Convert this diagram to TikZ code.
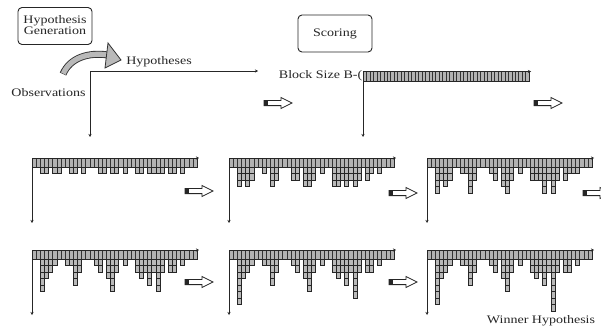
\documentclass[tikz,border=0pt]{standalone}
\usepackage{fontspec}
\setmainfont{Liberation Serif}
\usetikzlibrary{arrows.meta}
\newcommand{\wt}[1]{\scalebox{1.22}[1]{#1}}
\tikzset{
 cellbox/.style={fill=gray!55, draw=black!85, line width=0.45pt},
 barbox/.style={fill=gray!60, draw=black!85, line width=0.6pt},
 gridln/.style={draw=black!80, line width=0.4pt},
 axisln/.style={draw=black!85, line width=0.9pt, -{Stealth[length=3pt,width=3pt]}},
 labeltext/.style={font=\fontsize{11.5}{13}\selectfont, text=black!85, inner sep=0pt},
 stagebox/.style={draw=black!85, line width=0.9pt, rounded corners=4pt, minimum width=74pt, minimum height=37pt, inner sep=0pt, font=\fontsize{11.5}{13}\selectfont, text=black!85, align=center},
 blockarrow/.pic={
   \filldraw[fill=white, draw=black!85, line width=0.8pt] (0,-2.6) -- (17,-2.6) -- (17,-5.5) -- (28,0) -- (17,5.5) -- (17,2.6) -- (0,2.6) -- cycle;
   \fill[black!85] (0,-2.6) rectangle (4,2.6);
 }
}
\newcommand{\hpanel}[4]{%
 \coordinate (#1o) at (#2,#3);
 \coordinate (#1x) at (#2+167,#3);
 \coordinate (#1y) at (#2,#3+65);
 \begin{scope}[shift={(#1o)}]
  \foreach \i/\h in {#4}{\foreach \k in {1,...,\h}{\filldraw[cellbox] ({\i*4.125},{9+(\k-1)*6.5}) rectangle ++(4.125,6.5);}}
  \filldraw[barbox] (0,0) rectangle (165,9);
  \foreach \i in {1,...,39}{\draw[gridln] ({\i*4.125},0) -- ({\i*4.125},9);}
 \end{scope}
 \draw[axisln] (#1o) -- (#1x);
 \draw[axisln] (#1o) -- (#1y);
}
\begin{document}
\begin{tikzpicture}[x=1pt,y=-1pt]
\clip (0,0) rectangle (601,329);
\fill[white] (0,0) rectangle (601,329);

% stage boxes
\node[stagebox] (gen) at (55,26) {\wt{\begin{tabular}{@{}c@{}}Hypothesis\\[-2pt]Generation\end{tabular}}};
\node[stagebox] (score) at (335,33.5) {\wt{Scoring}};

% curved generation arrow
\draw[line width=7pt, black!80] (63,74) .. controls (70,58) and (88,52) .. (108,55);
\draw[line width=5.2pt, gray!55] (63.3,73.6) .. controls (70,58) and (88,52) .. (108.5,55);
\filldraw[fill=gray!55, draw=black!80, line width=0.8pt] (108,43) -- (121,60) -- (105,68) -- cycle;

% labels
\node[labeltext] (hyps) at (159,62) {\wt{Hypotheses}};
\node[labeltext] (obs) at (48.5,93) {\wt{Observations}};
\node[labeltext, anchor=east] (bsize) at (362.5,76) {\wt{Block Size B-(}};
\node[labeltext] (win) at (541,321) {\wt{Winner Hypothesis}};

% hypotheses axes
\coordinate (ho) at (90,71);
\coordinate (hx) at (258,71);
\coordinate (hy) at (90,137);
\draw[axisln] (ho) -- (hx);
\draw[axisln] (ho) -- (hy);

% scoring block bar
\coordinate (so) at (363,71.5);
\coordinate (sx) at (531,71.5);
\coordinate (sy) at (363,137);
\filldraw[barbox] (363,71.5) rectangle (529,81);
\foreach \i in {1,...,47}{\draw[gridln] ({363+\i*166/48},71.5) -- ({363+\i*166/48},81);}
\draw[axisln] (so) -- (sx);
\draw[axisln] (so) -- (sy);

% panels
\hpanel{pa}{32}{158}{2/1,3/1,5/1,6/1,9/1,10/1,12/1,16/1,17/1,19/1,20/1,22/1,25/1,26/1,28/1,29/1,30/1,31/1,33/1,34/1,36/1}
\hpanel{pb}{229}{158}{2/3,3/2,4/3,5/2,8/1,10/3,11/2,15/2,16/2,18/3,19/3,20/2,22/1,25/3,26/3,27/2,28/3,29/2,30/3,31/2,33/2,34/1,36/1}
\hpanel{pc}{427}{158}{2/4,3/2,4/3,5/2,8/1,9/1,10/4,11/2,15/1,16/2,18/3,19/4,20/2,22/1,25/2,26/2,27/2,28/4,29/2,30/4,31/2,33/2,34/1,35/1,36/1}
\hpanel{pd}{32}{250}{2/5,3/3,4/2,5/1,8/1,9/1,10/4,11/2,15/1,16/2,18/3,19/5,20/2,22/1,25/2,26/3,27/2,28/4,29/2,30/5,31/2,33/2,34/2,36/1}
\hpanel{pe}{229}{250}{2/7,3/3,4/2,5/1,8/1,9/1,10/4,11/2,15/1,16/2,18/3,19/5,20/2,22/1,25/2,26/3,27/2,28/4,29/2,30/6,31/2,33/2,34/2,36/1}
\hpanel{pf}{427}{250}{2/7,3/3,4/2,5/1,8/1,9/1,10/4,11/2,15/1,16/2,18/3,19/5,20/2,22/1,25/2,26/3,27/2,28/4,29/2,30/8,31/2,33/2,34/2,36/1}

% block arrows
\pic at (264,103) {blockarrow};
\pic at (534,103) {blockarrow};
\pic at (185,191) {blockarrow};
\pic at (389,193) {blockarrow};
\pic at (583,193) {blockarrow};
\pic at (185,282) {blockarrow};
\pic at (389,282) {blockarrow};
\end{tikzpicture}
\end{document}
